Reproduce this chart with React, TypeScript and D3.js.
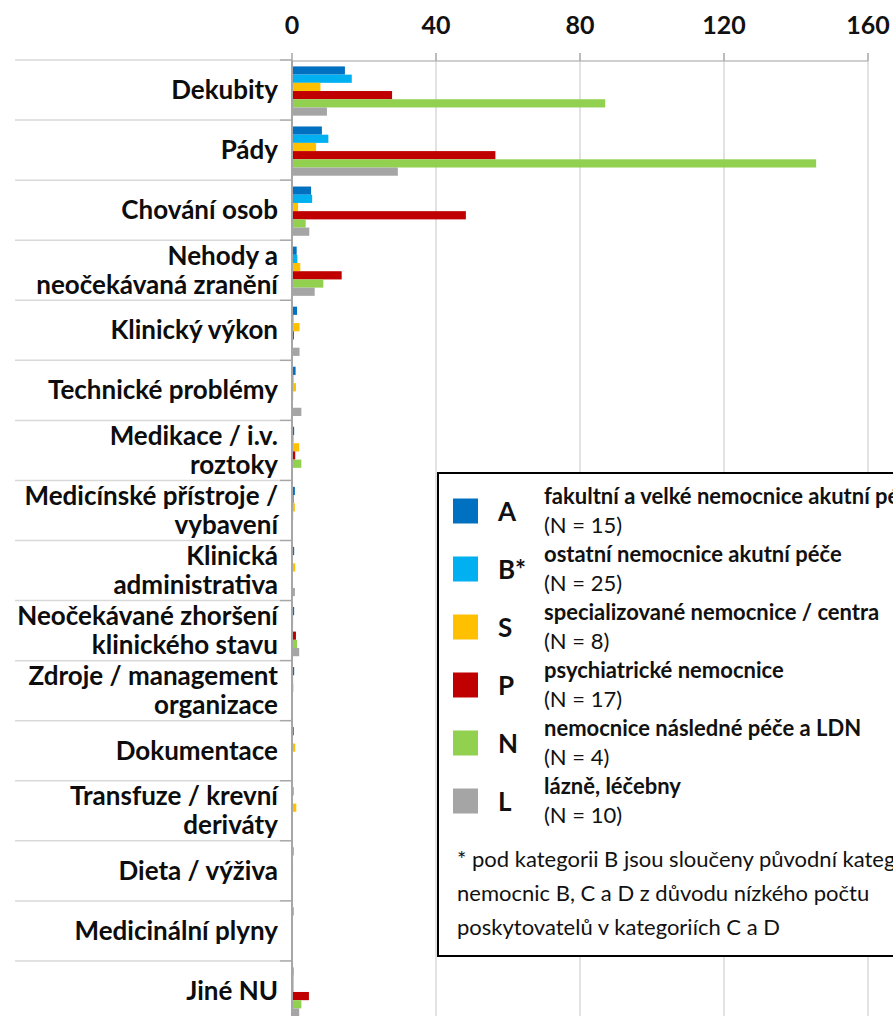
import * as d3 from "d3";

const W = 893;
const H = 1016;
const FONT = "Lato, 'Open Sans', sans-serif";

// categories (each entry = lines of the label)
const categories: string[][] = [
  ["Dekubity"],
  ["Pády"],
  ["Chování osob"],
  ["Nehody a", "neočekávaná zranění"],
  ["Klinický výkon"],
  ["Technické problémy"],
  ["Medikace / i.v.", "roztoky"],
  ["Medicínské přístroje /", "vybavení"],
  ["Klinická", "administrativa"],
  ["Neočekávané zhoršení", "klinického stavu"],
  ["Zdroje / management", "organizace"],
  ["Dokumentace"],
  ["Transfuze / krevní", "deriváty"],
  ["Dieta / výživa"],
  ["Medicinální plyny"],
  ["Jiné NU"],
];

const seriesKeys = ["A", "B*", "S", "P", "N", "L"];
const seriesColors = ["#0070C0", "#00B0F0", "#FFC000", "#C00000", "#92D050", "#A5A5A5"];
const seriesNames = [
  "fakultní a velké nemocnice akutní péče",
  "ostatní nemocnice akutní péče",
  "specializované nemocnice / centra",
  "psychiatrické nemocnice",
  "nemocnice následné péče a LDN",
  "lázně, léčebny",
];
const seriesN = ["(N = 15)", "(N = 25)", "(N = 8)", "(N = 17)", "(N = 4)", "(N = 10)"];

const valuesA = [14.7, 8.3, 5.3, 1.3, 1.4, 1.0, 0.6, 0.8, 0.6, 0.6, 0.6, 0.5, 0.4, 0.4, 0.4, 0.4];
const valuesB = [16.6, 10.1, 5.6, 1.5, 0.4, 0.4, 0.4, 0.5, 0.2, 0.3, 0.3, 0.2, 0.2, 0.2, 0, 0.4];
const valuesS = [7.9, 6.7, 1.7, 2.3, 2.1, 1.1, 2.0, 0.8, 0.9, 0.3, 0.4, 0.9, 1.2, 0.3, 0, 0.5];
const valuesP = [27.8, 56.5, 48.3, 13.8, 0.5, 0.3, 0.9, 0.3, 0, 1.1, 0, 0, 0, 0, 0, 4.7];
const valuesN = [87.0, 145.6, 3.8, 8.7, 0, 0, 2.6, 0, 0, 1.4, 0, 0, 0, 0, 0, 2.6];
const valuesL = [9.7, 29.4, 4.8, 6.3, 2.1, 2.6, 0, 0, 0.8, 2.0, 0, 0, 0, 0, 0, 2.0];
const seriesValues = [valuesA, valuesB, valuesS, valuesP, valuesN, valuesL];

const xTicks = [0, 40, 80, 120, 160];

const footnote = [
  "* pod kategorii B jsou sloučeny původní kategorie",
  "nemocnic B, C a D z důvodu nízkého počtu",
  "poskytovatelů v kategoriích C a D",
];

// plot area
const PLOT = { left: 292, right: 868, top: 61, bottom: 1022 };

export default function App() {
  const x = d3.scaleLinear().domain([0, 160]).range([PLOT.left, PLOT.right]);
  const y = d3
    .scaleBand<number>()
    .domain(d3.range(categories.length))
    .range([PLOT.top, PLOT.bottom])
    .paddingInner(0.18)
    .paddingOuter(0.09);
  const ySub = d3
    .scaleBand<number>()
    .domain(d3.range(seriesKeys.length))
    .range([0, y.bandwidth()]);
  const step = y.step();

  // legend geometry
  const LG = { x: 438, y: 473, w: 470, h: 483 };
  const rowY = (i: number) => 511 + i * 58;

  return (
    <svg
      width={W}
      height={H}
      style={{ position: "absolute", left: 0, top: 0, background: "#fff" }}
      fontFamily={FONT}
    >
      {/* vertical gridlines */}
      {xTicks.slice(1).map((t) => (
        <line key={t} x1={x(t)} x2={x(t)} y1={PLOT.top} y2={H} stroke="#d9d9d9" strokeWidth={1.5} />
      ))}
      {/* top border */}
      <line x1={PLOT.left} x2={PLOT.right} y1={PLOT.top} y2={PLOT.top} stroke="#bfbfbf" strokeWidth={1.5} />
      {/* top ticks + labels */}
      {xTicks.map((t) => (
        <g key={t}>
          <line x1={x(t)} x2={x(t)} y1={PLOT.top - 8} y2={PLOT.top} stroke="#a6a6a6" strokeWidth={1.5} />
          <text x={x(t)} y={34} textAnchor="middle" fontSize={25} fontWeight={700} fill="#111">
            {t}
          </text>
        </g>
      ))}

      {/* category separators in label column */}
      {d3.range(categories.length + 1).map((i) => {
        const yy = PLOT.top - 1 + i * step;
        return (
          <g key={i}>
            <line x1={15} x2={280} y1={yy} y2={yy} stroke="#d9d9d9" strokeWidth={1.5} />
            <line x1={280} x2={PLOT.left} y1={yy} y2={yy} stroke="#a6a6a6" strokeWidth={1.5} />
          </g>
        );
      })}

      {/* category labels */}
      {categories.map((lines, i) => {
        const cy = PLOT.top - 1 + (i + 0.5) * step;
        const lh = 29;
        return (
          <text key={i} textAnchor="end" fontSize={26} fontWeight={700} fill="#0d0d0d">
            {lines.map((ln, j) => (
              <tspan key={j} x={278} y={cy + 9 + (j - (lines.length - 1) / 2) * lh}>
                {ln}
              </tspan>
            ))}
          </text>
        );
      })}

      {/* bars */}
      {seriesValues.map((vals, s) => (
        <g key={s} fill={seriesColors[s]}>
          {vals.map((v, i) =>
            v > 0 ? (
              <rect
                key={i}
                x={x(0)}
                y={(y(i) as number) + (ySub(s) as number)}
                width={x(v) - x(0)}
                height={ySub.bandwidth()}
              />
            ) : null
          )}
        </g>
      ))}

      {/* y axis line */}
      <line x1={PLOT.left} x2={PLOT.left} y1={PLOT.top - 1} y2={H} stroke="#a6a6a6" strokeWidth={2} />

      {/* legend */}
      <rect x={LG.x} y={LG.y} width={LG.w} height={LG.h} fill="#fff" stroke="#000" strokeWidth={2} />
      {seriesKeys.map((k, i) => (
        <g key={k}>
          <rect x={453} y={rowY(i) - 12.5} width={25} height={25} fill={seriesColors[i]} />
          <text x={498} y={rowY(i) + 10} fontSize={26} fontWeight={700} fill="#111">
            {k}
          </text>
          <text x={544} y={rowY(i) - 7} fontSize={22} fontWeight={700} fill="#111">
            {seriesNames[i]}
          </text>
          <text x={544} y={rowY(i) + 22} fontSize={22} fill="#111">
            {seriesN[i]}
          </text>
        </g>
      ))}
      {footnote.map((t, i) => (
        <text key={i} x={457} y={867 + i * 34} fontSize={22} fill="#111">
          {t}
        </text>
      ))}
    </svg>
  );
}
